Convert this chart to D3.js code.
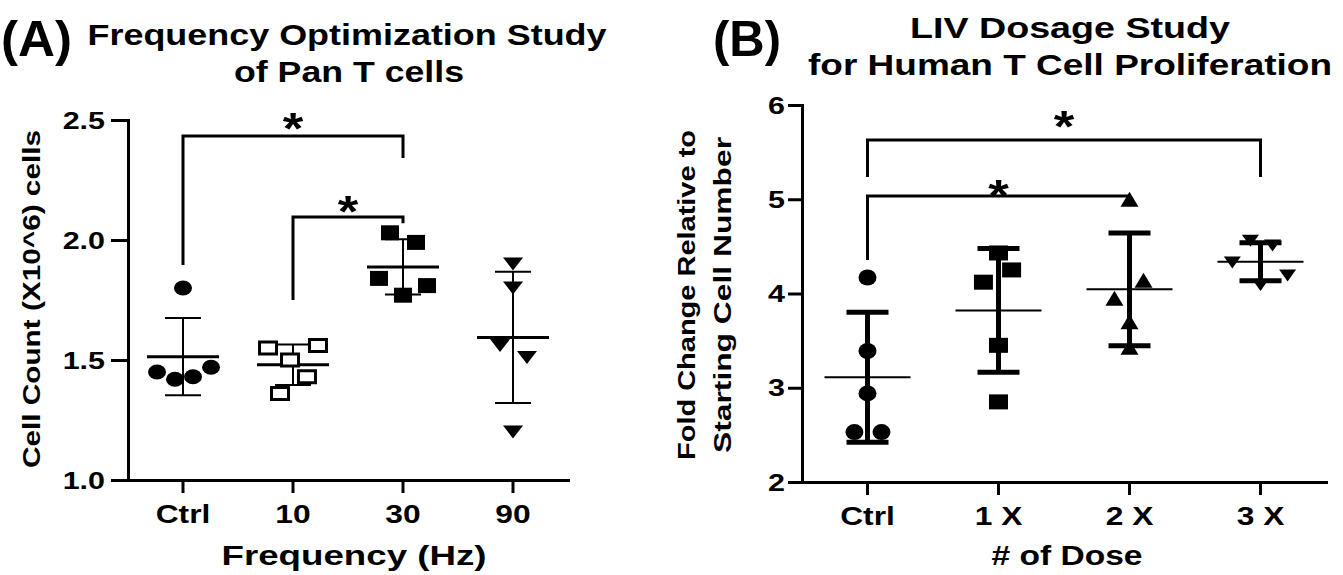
<!DOCTYPE html>
<html><head><meta charset="utf-8">
<script src="https://cdn.jsdelivr.net/npm/d3@7"></script>
<style>
body{margin:0;background:#fff;}
svg{display:block;}
text{font-family:"Liberation Sans",Arial,Helvetica,sans-serif;font-weight:bold;fill:#000;}
</style>
</head><body>
<svg id="c" width="1343" height="575"></svg>
<script>
// ---------- Panel A data ----------
const freqCategories = ["Ctrl", "10", "30", "90"];
const freqValues = [
  [1.80, 1.45, 1.42, 1.43, 1.47],
  [1.55, 1.50, 1.56, 1.43, 1.36],
  [2.03, 1.99, 1.84, 1.81, 1.77],
  [1.90, 1.80, 1.56, 1.51, 1.20]
];
// horizontal spread of each point inside its column (fraction of column spacing)
const freqSpread = [
  [0, -0.236, -0.073, 0.091, 0.255],
  [-0.227, -0.027, 0.227, 0.127, -0.118],
  [-0.118, 0.118, -0.218, 0.218, 0],
  [0, 0, -0.118, 0.127, 0]
];
const freqShapes = ["circle", "openSquare", "square", "triDown"];
const freqTicks = [1.0, 1.5, 2.0, 2.5];
const freqDomain = [1.0, 2.5];
// significance brackets: from / to column, bracket top, leg ends, star level (data units)
const freqSig = [
  {from: 0, to: 2, top: 2.433, legFrom: 1.896, legTo: 2.342, star: 2.50},
  {from: 1, to: 2, top: 2.096, legFrom: 1.75, legTo: 2.07, star: 2.154}
];

// ---------- Panel B data ----------
const doseCategories = ["Ctrl", "1 X", "2 X", "3 X"];
const doseValues = [
  [4.17, 3.39, 2.94, 2.53, 2.53],
  [4.43, 4.25, 4.12, 3.45, 2.85],
  [5.00, 4.14, 3.95, 3.70, 3.43],
  [4.56, 4.51, 4.33, 4.19, 4.09]
];
const doseSpread = [
  [0, 0, 0, -0.10, 0.107],
  [0, 0.10, -0.115, 0, 0],
  [0, 0.107, -0.115, 0, 0],
  [-0.077, 0.092, -0.215, 0.207, 0]
];
const doseShapes = ["circle", "square", "triUp", "triDown"];
const doseTicks = [2, 3, 4, 5, 6];
const doseDomain = [2, 6];
const doseSig = [
  {from: 0, to: 3, top: 5.629, legFrom: 5.236, legTo: 5.236, star: 5.862},
  {from: 0, to: 2, top: 5.034, legFrom: 4.355, legTo: 5.034, star: 5.13}
];

const svg = d3.select("#c");

function fit(t, k, width) {
  t.each(function () {
    const L = this.getComputedTextLength();
    this.setAttribute("textLength", width || L * k);
    this.setAttribute("lengthAdjust", "spacingAndGlyphs");
  });
  return t;
}
function addText(g, str, x, y, size, opt) {
  opt = opt || {};
  const t = g.append("text").attr("x", x).attr("y", y)
    .attr("font-size", size)
    .attr("text-anchor", opt.anchor || "middle")
    .text(str);
  if (opt.rotate) t.attr("transform", `rotate(${opt.rotate},${x},${y})`);
  fit(t, opt.k || 1.25, opt.width);
  return t;
}

function shapePath(type, w, h) {
  const a = w / 2, b = h / 2;
  switch (type) {
    case "circle":
      return `M${-a},0A${a},${b} 0 1,0 ${a},0A${a},${b} 0 1,0 ${-a},0Z`;
    case "square":
    case "openSquare":
      return `M${-a},${-b}H${a}V${b}H${-a}Z`;
    case "triUp":
      return `M0,${-b}L${a},${b}L${-a},${b}Z`;
    case "triDown":
      return `M0,${b}L${a},${-b}L${-a},${-b}Z`;
  }
}

function drawPanel(cfg) {
  const g = svg.append("g");
  const x = d3.scaleBand().domain(cfg.categories).range(cfg.xRange).padding(0);
  const y = d3.scaleLinear().domain(cfg.domain).range(cfg.yRange);
  const bw = x.bandwidth();
  const cx = i => x(cfg.categories[i]) + bw / 2;

  // axes
  const gy = g.append("g").attr("transform", `translate(${cfg.xRange[0]},0)`)
    .call(d3.axisLeft(y).tickValues(cfg.ticks).tickFormat(cfg.fmt)
      .tickSize(cfg.yTickLen).tickSizeOuter(0).tickPadding(cfg.yPad));
  const gx = g.append("g").attr("transform", `translate(0,${cfg.yRange[0]})`)
    .call(d3.axisBottom(x).tickSize(13).tickSizeOuter(0));
  [gy, gx].forEach(a => {
    a.attr("font-size", null).attr("font-family", null);
    a.selectAll("path,line").attr("stroke", "#000").attr("stroke-width", 3);
    a.select(".domain").attr("stroke-linecap", "square");
  });
  gy.selectAll("text").attr("font-size", 24).attr("dy", "0.34em").call(t => fit(t, 1.27));
  gx.selectAll("text").attr("font-size", 25).attr("y", 43).attr("dy", 0).call(t => fit(t, 1.27));

  // error bars, means, points
  cfg.values.forEach((vals, i) => {
    const m = d3.mean(vals), s = d3.deviation(vals);
    const X = cx(i);
    const st = cfg.style;
    g.append("line").attr("x1", X).attr("x2", X).attr("y1", y(m + s)).attr("y2", y(m - s))
      .attr("stroke", "#000").attr("stroke-width", st.errW);
    [m + s, m - s].forEach(v => g.append("line")
      .attr("x1", X - st.cap).attr("x2", X + st.cap).attr("y1", y(v)).attr("y2", y(v))
      .attr("stroke", "#000").attr("stroke-width", st.errW));
    g.append("line").attr("x1", X - st.mean).attr("x2", X + st.mean).attr("y1", y(m)).attr("y2", y(m))
      .attr("stroke", "#000").attr("stroke-width", st.meanW);
    const shp = cfg.shapes[i];
    const sz = st.sizes[shp];
    g.selectAll(null).data(vals).enter().append("path")
      .attr("d", shapePath(shp, sz[0], sz[1]))
      .attr("transform", (v, j) => `translate(${X + cfg.spread[i][j] * bw},${y(v)})`)
      .attr("fill", shp === "openSquare" ? "#fff" : "#000")
      .attr("stroke", shp === "openSquare" ? "#000" : "none")
      .attr("stroke-width", 3);
  });

  // significance brackets
  cfg.sig.forEach(s => {
    const x1 = cx(s.from), x2 = cx(s.to);
    g.append("path")
      .attr("d", `M${x1},${y(s.legFrom)}V${y(s.top)}H${x2}V${y(s.legTo)}`)
      .attr("fill", "none").attr("stroke", "#000").attr("stroke-width", 3);
    addText(g, "*", (x1 + x2) / 2, y(s.star) + 24, 44, {k: 1.2});
  });
  return g;
}

drawPanel({
  categories: freqCategories, values: freqValues, spread: freqSpread, shapes: freqShapes,
  ticks: freqTicks, domain: freqDomain, fmt: d3.format(".1f"), sig: freqSig,
  xRange: [128, 568], yRange: [480, 120], yTickLen: 17, yPad: 6,
  style: {errW: 2, cap: 18, mean: 36, meanW: 3,
    sizes: {circle: [18, 15], openSquare: [17, 12], square: [18, 15], triDown: [20, 13]}}
});
drawPanel({
  categories: doseCategories, values: doseValues, spread: doseSpread, shapes: doseShapes,
  ticks: doseTicks, domain: doseDomain, fmt: d3.format("d"), sig: doseSig,
  xRange: [802, 1326], yRange: [482, 105], yTickLen: 14, yPad: 3,
  style: {errW: 5, cap: 21, mean: 43, meanW: 2,
    sizes: {circle: [18, 16], square: [19, 15], triUp: [18, 15], triDown: [17, 12]}}
});

// ---------- titles & labels ----------
const T = svg.append("g");
addText(T, "(A)", 1, 56, 50, {anchor: "start", width: 71});
addText(T, "Frequency Optimization Study", 347, 45, 30, {width: 519});
addText(T, "of Pan T cells", 349, 82, 30, {width: 230});
addText(T, "Frequency (Hz)", 354, 565, 28, {width: 265});
addText(T, "Cell Count (X10^6) cells", 40, 299, 24, {rotate: -90, width: 338});

addText(T, "(B)", 713, 56, 50, {anchor: "start", width: 68});
addText(T, "LIV Dosage Study", 1070, 38, 30, {width: 320});
addText(T, "for Human T Cell Proliferation", 1070, 75, 30, {width: 524});
addText(T, "# of Dose", 1067, 565, 28, {width: 151});
addText(T, "Fold Change Relative to", 695, 295, 24, {rotate: -90, width: 330});
addText(T, "Starting Cell Number", 731, 295, 24, {rotate: -90, width: 316});
</script>
</body></html>
